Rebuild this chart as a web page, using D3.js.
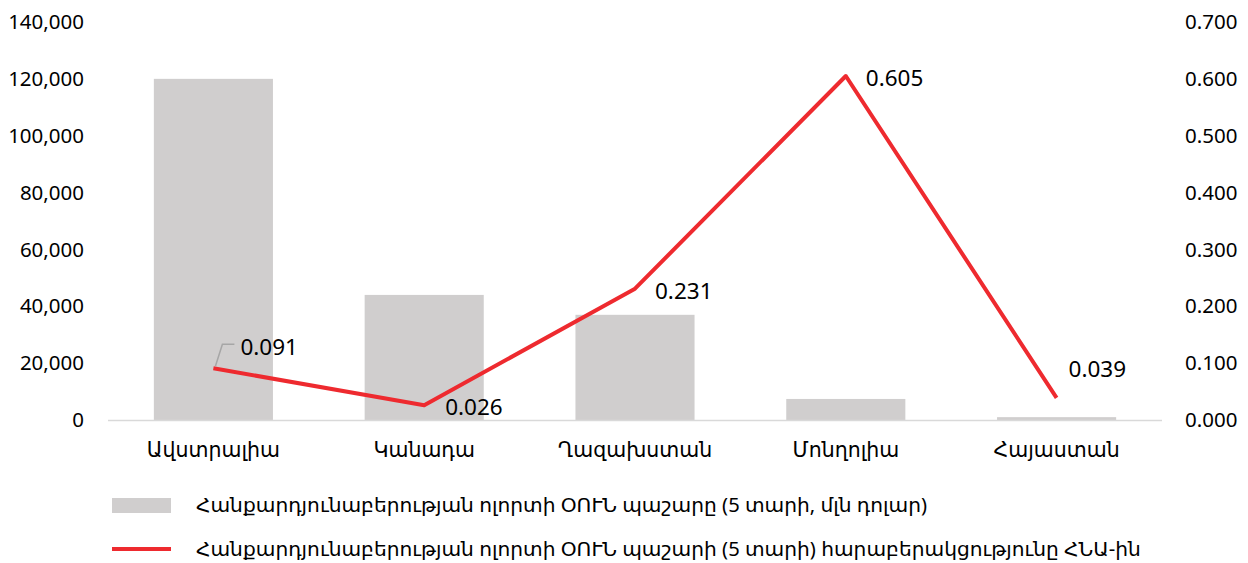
<!DOCTYPE html>
<html>
<head>
<meta charset="utf-8">
<script src="https://cdn.jsdelivr.net/npm/d3@7"></script>
<style>
	body { margin: 0; background: #fff; }
	text { font-family: "Noto Sans", "DejaVu Sans", sans-serif; fill: #000; }
</style>
</head>
<body>
<div id="graphic"></div>
<script>
// data
var categories = ['Ավստրալիա', 'Կանադա', 'Ղազախստան', 'Մոնղոլիա', 'Հայաստան'];
var reserves = [120000, 44000, 37000, 7400, 1000];
var ratio = [0.091, 0.026, 0.231, 0.605, 0.039];
var leftTicks = [0, 20000, 40000, 60000, 80000, 100000, 120000, 140000];
var rightTicks = [0, 0.1, 0.2, 0.3, 0.4, 0.5, 0.6, 0.7];
var legendLabels = [
	'Հանքարդյունաբերության ոլորտի ՕՈՒՆ պաշարը (5 տարի, մլն դոլար)',
	'Հանքարդյունաբերության ոլորտի ՕՈՒՆ պաշարի (5 տարի) հարաբերակցությունը  ՀՆԱ-ին'
];

var width = 1248, height = 563;
var barColor = '#d0cece', lineColor = '#ee2a2f';

var plot = { left: 108, right: 1162, top: 22, bottom: 420 };

var svg = d3.select('#graphic').append('svg')
	.attr('width', width)
	.attr('height', height);

var x = d3.scaleBand()
	.domain(categories)
	.range([plot.left, plot.right])
	.paddingInner(0.435)
	.paddingOuter(0.435 / 2);

var yL = d3.scaleLinear().domain([0, 140000]).range([plot.bottom, plot.top]);
var yR = d3.scaleLinear().domain([0, 0.7]).range([plot.bottom, plot.top]);

var fmtL = d3.format(',');
var fmtR = d3.format('.3f');

// left axis labels
svg.append('g').selectAll('text')
	.data(leftTicks).enter().append('text')
	.attr('x', 84)
	.attr('y', function(d) { return yL(d); })
	.attr('dy', '0.35em')
	.attr('text-anchor', 'end')
	.style('font-size', '20.5px')
	.text(function(d) { return fmtL(d); });

// right axis labels
svg.append('g').selectAll('text')
	.data(rightTicks).enter().append('text')
	.attr('x', 1185)
	.attr('y', function(d) { return yR(d); })
	.attr('dy', '0.35em')
	.style('font-size', '20.5px')
	.text(function(d) { return fmtR(d); });

// bars
svg.append('g').selectAll('rect')
	.data(reserves).enter().append('rect')
	.attr('x', function(d, i) { return x(categories[i]); })
	.attr('y', function(d) { return yL(d); })
	.attr('width', x.bandwidth())
	.attr('height', function(d) { return yL(0) - yL(d); })
	.attr('fill', barColor);

// baseline
svg.append('line')
	.attr('x1', plot.left).attr('x2', plot.right)
	.attr('y1', yL(0) + 0.5).attr('y2', yL(0) + 0.5)
	.attr('stroke', '#d9d9d9')
	.attr('stroke-width', 1.5);

// x labels
svg.append('g').selectAll('text')
	.data(categories).enter().append('text')
	.attr('x', function(d) { return x(d) + x.bandwidth() / 2; })
	.attr('y', 450)
	.attr('dy', '0.35em')
	.attr('text-anchor', 'middle')
	.style('font-size', '20.5px')
	.text(function(d) { return d; });

// line
var cx = function(d, i) { return x(categories[i]) + x.bandwidth() / 2; };
var line = d3.line()
	.x(cx)
	.y(function(d) { return yR(d); });

svg.append('path')
	.datum(ratio)
	.attr('d', line)
	.attr('fill', 'none')
	.attr('stroke', lineColor)
	.attr('stroke-width', 4)
	.attr('stroke-linejoin', 'round');

// data labels (label offsets as Excel placed them)
var labelDx = [27, 21, 20, 20, 12];
var labelDy = [-21, 2, 2, 2, -29];

svg.append('g').selectAll('text')
	.data(ratio).enter().append('text')
	.attr('x', function(d, i) { return cx(d, i) + labelDx[i]; })
	.attr('y', function(d, i) { return yR(d) + labelDy[i]; })
	.attr('dy', '0.35em')
	.style('font-size', '22.5px')
	.text(function(d) { return fmtR(d); });

// leader line for the first label
var lx = cx(ratio[0], 0), ly = yR(ratio[0]);
svg.append('path')
	.attr('d', 'M' + (lx + 2) + ',' + (ly - 2) + 'L' + (lx + 9) + ',' + (ly - 24) + 'L' + (lx + 21) + ',' + (ly - 24))
	.attr('fill', 'none')
	.attr('stroke', '#a6a6a6')
	.attr('stroke-width', 1.5);

// legend
var legend = svg.append('g').attr('transform', 'translate(112,0)');
legend.append('rect')
	.attr('x', 0).attr('y', 498)
	.attr('width', 59).attr('height', 15)
	.attr('fill', barColor);
legend.append('line')
	.attr('x1', 0).attr('x2', 59)
	.attr('y1', 549).attr('y2', 549)
	.attr('stroke', lineColor)
	.attr('stroke-width', 4);
legend.selectAll('text.leg')
	.data(legendLabels).enter().append('text')
	.attr('class', 'leg')
	.attr('x', 84)
	.attr('y', function(d, i) { return i == 0 ? 505 : 549; })
	.attr('dy', '0.35em')
	.style('font-size', '20.2px')
	.text(function(d) { return d; });
</script>
</body>
</html>
